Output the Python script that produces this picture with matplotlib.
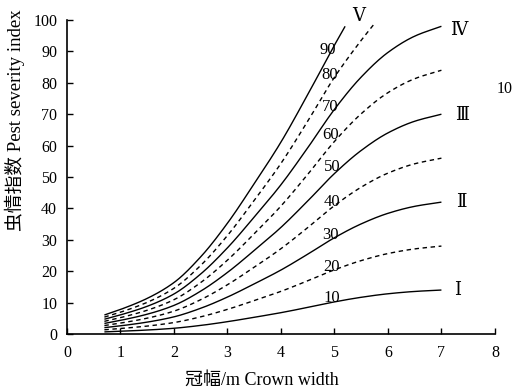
import numpy as np
import matplotlib
matplotlib.use("Agg")
import matplotlib.pyplot as plt

plt.rcParams['font.family'] = ['Liberation Serif', 'DejaVu Serif', 'Noto Sans CJK SC']

# ---- data ----
x_full = [0.7, 1.0, 1.5, 2.0, 2.5, 3.0, 3.5, 4.0, 4.5, 5.0, 5.5, 6.0, 6.5, 7.0]
curve_I   = [0.67, 0.87, 1.26, 1.82, 2.73, 3.92, 5.32, 6.79, 8.47, 10.22, 11.69, 12.81, 13.55, 14.0]
dash_20   = [1.34, 1.74, 2.52, 3.64, 5.46, 7.84, 10.64, 13.58, 16.94, 20.44, 23.38, 25.62, 27.10, 28.0]
curve_II  = [2.02, 2.60, 3.78, 5.46, 8.19, 11.76, 15.96, 20.37, 25.41, 30.66, 35.07, 38.43, 40.66, 42.0]
dash_40   = [2.69, 3.47, 5.04, 7.28, 10.92, 15.68, 21.28, 27.16, 33.88, 40.88, 46.76, 51.24, 54.21, 56.0]
curve_III = [3.36, 4.34, 6.30, 9.10, 13.65, 19.60, 26.60, 33.95, 42.35, 51.10, 58.45, 64.05, 67.76, 70.0]
dash_60   = [4.03, 5.21, 7.56, 10.92, 16.38, 23.52, 31.92, 40.74, 50.82, 61.32, 70.14, 76.86, 81.31, 84.0]
curve_IV  = [4.70, 6.08, 8.82, 12.74, 19.11, 27.44, 37.24, 47.53, 59.29, 71.54, 81.83, 89.67, 94.86, 98.0]
x_dash80  = [0.7, 1.0, 1.5, 2.0, 2.5, 3.0, 3.5, 4.0, 4.5, 5.0, 5.5, 5.76]
dash_80   = [5.38, 6.94, 10.08, 14.56, 21.84, 31.36, 42.56, 54.32, 67.76, 81.76, 93.52, 99.1]
x_V       = [0.7, 1.0, 1.5, 2.0, 2.5, 3.0, 3.5, 4.0, 4.5, 5.0, 5.2]
curve_V   = [6.05, 7.81, 11.34, 16.38, 24.57, 35.28, 47.88, 61.11, 76.23, 91.98, 98.0]

level_labels = ['10', '20', '30', '40', '50', '60', '70', '80', '90']
level_pos = [(4.95, 11.4), (4.95, 21.4), (4.92, 31.5), (4.95, 42.0), (4.95, 53.3),
             (4.92, 63.4), (4.92, 72.4), (4.92, 82.5), (4.88, 90.4)]
roman_labels = ['Ⅰ', 'Ⅱ', 'Ⅲ', 'Ⅳ', 'Ⅴ']
roman_pos = [(7.3, 13.8), (7.38, 41.9), (7.38, 69.7), (7.33, 96.8), (5.45, 101.0)]
x_ticks = [0, 1, 2, 3, 4, 5, 6, 7, 8]
y_ticks = [0, 10, 20, 30, 40, 50, 60, 70, 80, 90, 100]


def pchip(x, y, n=200):
    x = np.asarray(x, float); y = np.asarray(y, float)
    h = np.diff(x); d = np.diff(y) / h
    m = np.zeros_like(y)
    for k in range(1, len(x) - 1):
        if d[k - 1] * d[k] > 0:
            w1 = 2 * h[k] + h[k - 1]; w2 = h[k] + 2 * h[k - 1]
            m[k] = (w1 + w2) / (w1 / d[k - 1] + w2 / d[k])
    m[0] = d[0]; m[-1] = d[-1]
    xs = np.linspace(x[0], x[-1], n)
    idx = np.clip(np.searchsorted(x, xs) - 1, 0, len(h) - 1)
    t = (xs - x[idx]) / h[idx]
    h00 = 2*t**3 - 3*t**2 + 1; h10 = t**3 - 2*t**2 + t
    h01 = -2*t**3 + 3*t**2; h11 = t**3 - t**2
    ys = h00*y[idx] + h10*h[idx]*m[idx] + h01*y[idx+1] + h11*h[idx]*m[idx+1]
    return xs, ys


fig = plt.figure(figsize=(5.15, 3.91), dpi=100)
ax = fig.add_axes([0.130, 0.1458, 0.831, 0.803])

solid = [(x_full, curve_I), (x_full, curve_II), (x_full, curve_III), (x_full, curve_IV), (x_V, curve_V)]
dashed = [(x_full, dash_20), (x_full, dash_40), (x_full, dash_60), (x_dash80, dash_80)]
for xx, yy in solid:
    xs, ys = pchip(xx, yy)
    ax.plot(xs, ys, color='black', lw=1.0, solid_capstyle='butt')
for xx, yy in dashed:
    xs, ys = pchip(xx, yy)
    ax.plot(xs, ys, color='black', lw=1.0, dashes=(3.2, 2.6))

for lab, (px, py) in zip(level_labels, level_pos):
    ax.text(px, py, lab, ha='center', va='center', fontsize=12)
for lab, (px, py) in zip(roman_labels, roman_pos):
    ax.text(px, py, lab, ha='center', va='center', fontsize=13)
ax.text(8.19, 77.9, '10', ha='center', va='center', fontsize=11.5, clip_on=False)

ax.set_xlim(0, 8)
ax.set_ylim(0, 100)
ax.set_xticks(x_ticks)
ax.set_yticks(y_ticks)
ax.tick_params(axis='both', direction='in', length=4, width=1, labelsize=11.5, color='black')
ax.tick_params(axis='x', pad=8)
ax.tick_params(axis='y', pad=7)
for s in ['top', 'right']:
    ax.spines[s].set_visible(False)
for s in ['left', 'bottom']:
    ax.spines[s].set_linewidth(1.2)

ax.set_xlabel('冠幅/m Crown width', fontsize=13)
ax.set_ylabel('虫情指数 Pest severity index', fontsize=13.5)
ax.xaxis.set_label_coords(0.456, -0.12)
ax.yaxis.set_label_coords(-0.098, 0.68)

fig.savefig('out.png', dpi=100)
